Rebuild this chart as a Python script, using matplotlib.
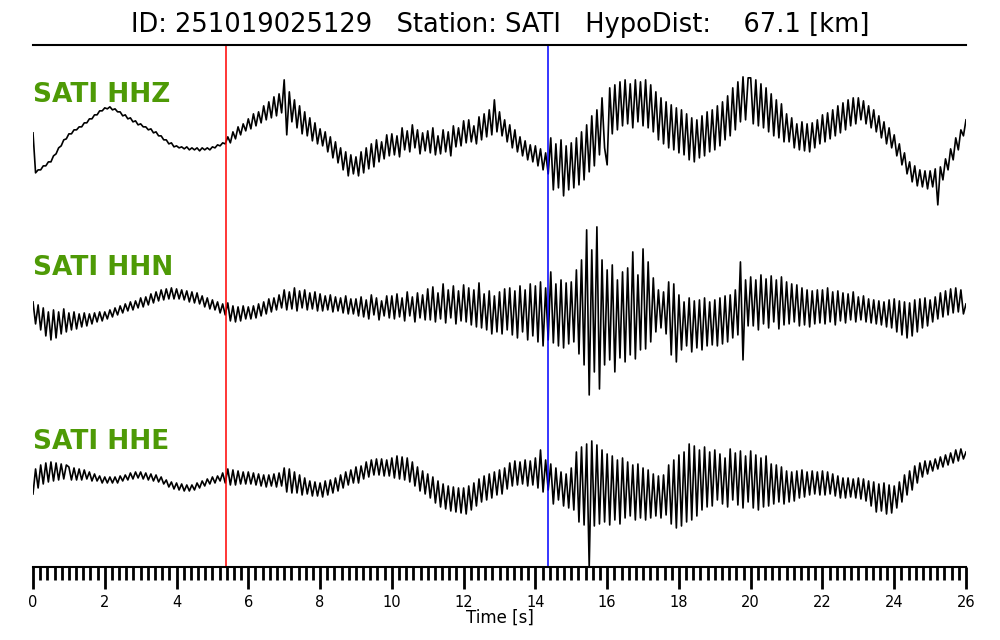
import numpy as np
import matplotlib
matplotlib.use("Agg")
import matplotlib.pyplot as plt
from matplotlib.ticker import MultipleLocator

# ---------------- data ----------------
title_text = "ID: 251019025129   Station: SATI   HypoDist:    67.1 [km]"
channels = ["SATI HHZ", "SATI HHN", "SATI HHE"]
samples_per_second = 14   # digitised sampling of the traces
p_pick = 5.37             # red pick [s]
s_pick = 14.35            # blue pick [s]
x_ticks_major = list(range(0, 27, 2))

hhz = [
    7, -33, -30, -30, -26, -26, -22, -22, -16, -14, -8, -6, 0, 1,
    6, 6, 10, 10, 13, 13, 17, 17, 21, 21, 25, 25, 29, 29,
    32, 31, 33, 30, 31, 28, 28, 24, 25, 21, 22, 18, 19, 15,
    16, 13, 13, 10, 11, 7, 8, 4, 4, 0, 0, -4, -3, -7,
    -6, -8, -7, -9, -7, -10, -8, -10, -8, -11, -8, -10, -8, -10,
    -7, -8, -5, -6, -3, -4, 3, -3, 8, 1, 13, 5, 16, 9,
    21, 11, 26, 14, 28, 17, 34, 20, 38, 22, 43, 24, 46, 27,
    60, 5, 48, 18, 40, 12, 34, 6, 28, 4, 22, -1, 17, -4,
    11, -6, 8, -12, 3, -18, -2, -23, -8, -30, -12, -36, -15, -34,
    -17, -36, -12, -33, -8, -29, -4, -27, 0, -22, -2, -19, 5, -16,
    6, -15, 4, -17, 12, -10, 9, -12, 15, -8, 10, -14, 7, -11,
    9, -13, 12, -15, 4, -14, 10, -12, 8, -16, 14, -7, 12, -6,
    19, -3, 20, -2, 14, -4, 23, 0, 26, 3, 30, 5, 40, 8,
    28, 4, 20, -2, 15, -8, 10, -12, 3, -16, -1, -20, -5, -22,
    -6, -26, -9, -30, -13, -34, 2, -50, -4, -48, 0, -56, -6, -50,
    -3, -48, 2, -45, 8, -40, 15, -32, 24, -26, 30, -15, 42, -8,
    -25, 52, 6, 55, 10, 58, 14, 60, 16, 56, 12, 60, 18, 58,
    14, 60, 12, 55, 8, 48, 0, 42, -4, 38, -8, 35, -10, 32,
    -13, 30, -15, 26, -20, 22, -22, 20, -18, 24, -16, 28, -12, 30,
    -10, 34, -6, 38, 0, 44, 4, 52, 10, 58, 18, 63, 20, 62,
    62, 16, 60, 14, 56, 12, 52, 8, 46, 4, 40, 2, 36, -2,
    26, -2, 22, -8, 16, -10, 18, -11, 16, -12, 17, -8, 20, -4,
    25, -2, 27, 1, 30, 4, 34, 7, 37, 10, 40, 14, 42, 16,
    42, 20, 39, 16, 34, 12, 30, 8, 24, 2, 18, -4, 12, -8,
    5, -16, -4, -25, -13, -34, -22, -42, -26, -46, -30, -47, -31, -49,
    -31, -47, -29, -65, -27, -40, -19, -30, -9, -20, 2, -10, 10, 4,
    20,
]

hhn = [
    8, -14, 5, -20, 2, -26, -2, -30, 0, -28, -2, -24, 1, -22,
    -3, -20, -2, -19, -4, -17, -3, -16, -4, -14, -3, -12, -2, -11,
    -2, -9, 0, -7, 2, -5, 4, -3, 6, -1, 8, 0, 9, 2,
    12, 3, 13, 5, 16, 7, 18, 9, 20, 10, 21, 11, 22, 11,
    21, 11, 20, 10, 19, 8, 18, 7, 17, 6, 14, 3, 12, 1,
    10, 0, 8, -3, 6, -5, 7, -11, 4, -12, 3, -11, 4, -9,
    3, -9, 4, -8, 6, -6, 8, -4, 11, -2, 12, 0, 15, 2,
    20, 0, 18, 1, 22, -1, 19, 2, 20, 0, 17, 1, 18, -1,
    16, -1, 14, 0, 15, -2, 13, -1, 12, -3, 14, -4, 11, -4,
    11, -6, 13, -7, 10, -9, 15, -5, 12, -10, 9, -6, 14, -8,
    14, -9, 16, -7, 12, -11, 18, -6, 13, -12, 17, -8, 15, -10,
    21, -10, 23, -12, 17, -9, 26, -13, 20, -8, 24, -14, 19, -11,
    25, -12, 22, -15, 20, -17, 27, -18, 16, -20, 19, -24, 14, -22,
    18, -24, 21, -20, 22, -25, 19, -28, 24, -22, 20, -30, 26, -26,
    24, -32, 28, -36, 22, -30, 38, -33, 26, -36, 30, -38, 27, -34,
    28, -32, 40, -44, 50, -55, 80, -85, 60, -62, 83, -79, 50, -55,
    40, -50, 45, -62, 30, -48, 38, -52, 42, -45, 58, -49, 35, -40,
    61, -39, 48, -32, 32, -22, 20, -18, 18, -24, 28, -45, 26, -52,
    15, -40, 8, -36, 12, -42, 9, -38, 10, -40, 12, -36, 8, -35,
    10, -36, 12, -34, 14, -32, 15, -28, 20, -25, 48, -50, 30, -16,
    33, -16, 30, -20, 35, -14, 31, -18, 34, -12, 30, -19, 33, -15,
    28, -14, 26, -12, 25, -16, 22, -15, 20, -17, 19, -14, 20, -13,
    20, -14, 22, -12, 18, -15, 19, -11, 17, -13, 16, -10, 18, -12,
    13, -10, 14, -12, 11, -13, 10, -14, 9, -15, 8, -17, 10, -18,
    11, -22, 9, -25, 8, -28, 7, -26, 10, -22, 11, -18, 12, -16,
    10, -12, 13, -9, 17, -7, 19, -5, 21, -3, 22, -2, 20, -4,
    6,
]

hhe = [
    -14, 11, -8, 15, -4, 17, -2, 18, -1, 17, 0, 16, 1, 15,
    13, 0, 12, 0, 11, 0, 10, 1, 8, -1, 6, -1, 4, -3,
    3, -3, 3, -3, 3, -3, 4, -1, 5, 0, 7, 1, 8, 2,
    8, 1, 7, 0, 6, -1, 5, -2, 3, -4, 0, -7, -2, -9,
    -3, -10, -4, -11, -5, -11, -5, -10, -3, -8, -1, -6, 1, -4,
    3, -3, 4, -1, 7, -3, 11, -5, 10, -5, 9, -4, 8, -4,
    8, -4, 7, -5, 6, -6, 5, -7, 5, -6, 6, -7, 7, -6,
    12, -12, 11, -13, 8, -13, 5, -15, 2, -14, -1, -16, -2, -16,
    -3, -17, -1, -15, 0, -13, 2, -11, 5, -8, 8, -5, 10, -3,
    13, -3, 14, 1, 18, 3, 20, 5, 21, 5, 21, 4, 20, 4,
    22, 2, 24, 1, 23, 0, 22, -2, 18, -6, 13, -11, 9, -14,
    6, -18, 3, -23, -1, -27, -4, -29, -6, -31, -7, -32, -8, -33,
    -8, -34, -6, -30, -3, -26, 1, -22, 4, -20, 6, -18, 8, -15,
    10, -14, 12, -9, 17, -6, 19, -5, 18, -4, 20, -6, 19, -5,
    22, -8, 30, -12, 20, -10, 16, -24, 12, -20, 8, -26, 6, -28,
    12, -30, 28, -42, 33, -45, 36, -87, 39, -46, 35, -44, 30, -42,
    26, -45, 24, -40, 20, -44, 22, -38, 18, -36, 15, -40, 16, -38,
    12, -40, 10, -38, 6, -36, 4, -38, 5, -35, 15, -44, 20, -48,
    25, -46, 28, -42, 36, -40, 34, -36, 30, -30, 33, -27, 28, -26,
    30, -20, 26, -24, 22, -27, 31, -20, 27, -25, 29, -28, 24, -22,
    29, -28, 25, -30, 22, -27, 24, -26, 16, -24, 15, -22, 13, -24,
    9, -22, 8, -21, 9, -18, 10, -17, 8, -15, 9, -14, 8, -15,
    9, -15, 8, -14, 6, -16, 4, -18, 2, -18, 2, -17, 1, -18,
    2, -19, 1, -21, -1, -26, -2, -32, -4, -31, -3, -34, -5, -33,
    -6, -28, -2, -22, 5, -15, 9, -10, 14, -3, 17, 3, 19, 6,
    19, 9, 21, 11, 23, 13, 25, 15, 27, 17, 30, 19, 31, 21,
    28,
]

traces = [hhz, hhn, hhe]
offsets = [2, 1, 0]      # vertical stacking (trace units)
gain = 1.0 / 170.0       # amplitude -> trace units

# ---------------- figure ----------------
green = "#4e9a06"
fig = plt.figure(figsize=(10, 6.4), dpi=100)
ax = fig.add_axes([0.033, 0.114, 0.933, 0.816])

for tr, off in zip(traces, offsets):
    y = np.asarray(tr, dtype=float)
    t = np.arange(len(y)) / samples_per_second
    ax.plot(t, off + y * gain, color="black", lw=1.2)

label_y = [2.224, 1.206, 0.182]
for name, ly in zip(channels, label_y):
    ax.text(0.0, ly, name, color=green, fontsize=19, fontweight="bold",
            ha="left", va="baseline")

ax.axvline(p_pick, color="red", lw=1.1)
ax.axvline(s_pick, color="blue", lw=1.1)

ax.set_xlim(0, 26)
ax.set_ylim(-0.512, 2.559)

for side in ("left", "right"):
    ax.spines[side].set_visible(False)
ax.spines["bottom"].set_linewidth(1.5)
ax.spines["top"].set_linewidth(1.5)
ax.set_yticks([])

ax.set_xticks(x_ticks_major)
ax.xaxis.set_minor_locator(MultipleLocator(0.2))
ax.tick_params(axis="x", which="major", length=16, width=2.0, direction="out",
               labelsize=10.5, pad=4)
ax.tick_params(axis="x", which="minor", length=9, width=2.0, direction="out")
ax.set_xlabel("Time [s]", fontsize=12, labelpad=-1)

fig.text(0.5, 0.961, title_text, ha="center", va="center", fontsize=18.5)

fig.savefig("out.png", dpi=100)
